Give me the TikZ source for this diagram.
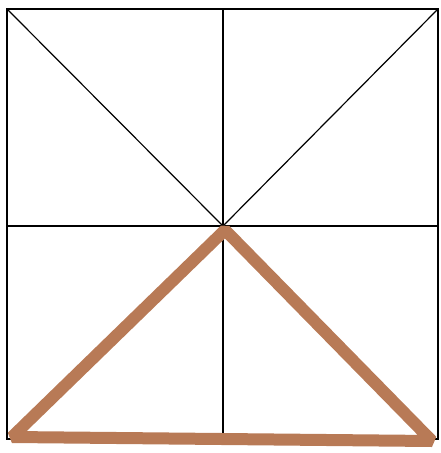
\documentclass[tikz,border=0pt]{standalone}
\usepackage{tikz}
\definecolor{Ink}{HTML}{000000}
\definecolor{Clay}{HTML}{B87A56}
\tikzset{
  gridline/.style={draw=Ink,line width=2pt},
  diagline/.style={draw=Ink,line width=1.2pt},
  tri/.style={draw=Clay,line width=12pt,line join=bevel,line cap=butt}
}

\begin{document}
\begin{tikzpicture}[x=1pt,y=-1pt]
      \useasboundingbox (0,0) rectangle (441,453);
      \coordinate (tl) at (7,9);
      \coordinate (tr) at (438,9);
      \coordinate (bl) at (7,439);
      \coordinate (br) at (438,439);
      \coordinate (tm) at (223,9);
      \coordinate (bm) at (223,439);
      \coordinate (ml) at (7,226);
      \coordinate (mr) at (438,226);
      \coordinate (mid) at (223,226);
      \coordinate (apex) at (225,230);
      \coordinate (foot l) at (12,437);
      \coordinate (foot r) at (432,441);
      \draw[gridline] (tl) rectangle (br);
      \draw[gridline] (tm) -- (bm);
      \draw[gridline] (ml) -- (mr);
      \draw[diagline] (tl) -- (mid);
      \draw[diagline] (tr) -- (mid);
      \draw[tri] (foot l) -- (apex) -- (foot r) -- cycle;
    \end{tikzpicture}
\end{document}
